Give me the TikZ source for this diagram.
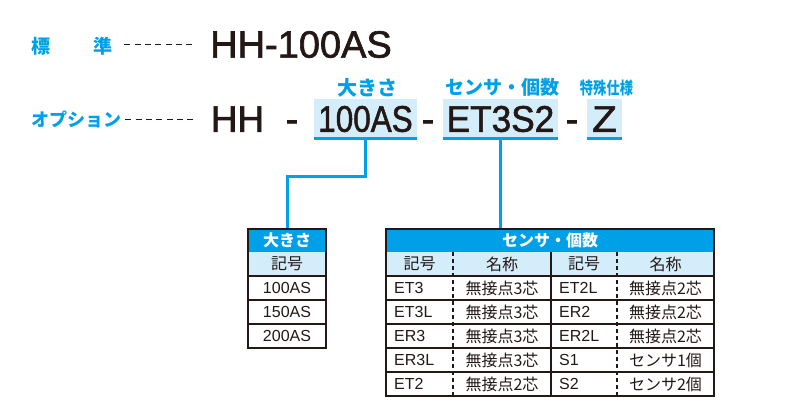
\documentclass[tikz,border=0pt]{standalone}
\usepackage{fontspec}
\setmainfont{Liberation Sans}
\newfontfamily\jp{Noto Sans CJK JP}
\newfontfamily\codefont[FakeBold=1.6]{Liberation Sans}
\usetikzlibrary{positioning}
\definecolor{codeblue}{RGB}{0,160,233}
\definecolor{codelight}{RGB}{211,237,251}
\definecolor{inkbrown}{RGB}{35,24,21}

\tikzset{
  bluelabel/.style={text=codeblue, inner sep=0pt, font=\jp\bfseries\fontsize{19}{19}\selectfont},
  toplabel/.style={text=codeblue, inner sep=0pt, font=\jp\bfseries\fontsize{20}{20}\selectfont},
  bigcode/.style={text=inkbrown, inner sep=0pt, text height=26.5pt, text depth=0pt,
    font=\codefont\fontsize{37}{37}\selectfont},
  codebox/.style={bigcode, fill=codelight, minimum height=39pt},
  underbar/.style={codeblue, line width=3pt},
  link/.style={codeblue, line width=3pt},
  leader/.style={inkbrown, line width=1pt, dash pattern=on 6pt off 4.3pt},
  frame/.style={draw=inkbrown, line width=1.5pt, inner sep=0pt},
  rule/.style={inkbrown, line width=1.2pt},
  dashrule/.style={inkbrown, line width=1.2pt, dash pattern=on 4pt off 3pt},
  tabhead/.style={text=white, inner sep=0pt, font=\jp\bfseries\fontsize{16}{16}\selectfont},
  cell/.style={text=inkbrown, inner sep=0pt, font=\fontsize{16}{16}\selectfont},
  jpcell/.style={cell, font=\jp\fontsize{16}{16}\selectfont}
}

\begin{document}
\begin{tikzpicture}[x=1pt, y=-1pt]
\useasboundingbox (0,0) rectangle (800,415);

% standard model
\node[bluelabel, anchor=west] (stdlbl) at (31,46) {標\hspace{43pt}準};
\node[bigcode, font=\codefont\fontsize{38}{38}\selectfont, text height=27.2pt] (stdcode) at (301,44) {HH-100AS};
\draw[leader] (stdlbl.east) ++(12,-2) -- ++(68,0);

% option model
\node[bluelabel, anchor=west, font=\jp\bfseries\fontsize{18}{18}\selectfont] (optlbl) at (31,119) {オプション};
\draw[leader] (optlbl.east) ++(4,0) -- ++(68,0);
\node[bigcode] (optHH) at (237.5,118.5) {HH};
\node[bigcode] (dash1) at (292,118.5) {-};
\node[codebox, minimum width=103pt] (sizebox) at (365.5,118.5) {\scalebox{0.85}[1]{100AS}};
\node[bigcode] (dash2) at (428,118.5) {-};
\node[codebox, minimum width=115pt] (sensbox) at (500.5,118.5) {\scalebox{0.95}[1]{ET3S2}};
\node[bigcode] (dash3) at (572,118.5) {-};
\node[codebox, minimum width=35pt] (zbox) at (604.5,118.5) {\scalebox{1.1}[1]{Z}};
\foreach \b in {sizebox,sensbox,zbox}
  \draw[underbar] (\b.south west) -- (\b.south east);

\node[toplabel] (sizelbl) at ([xshift=2pt,yshift=11pt]sizebox.north) {大きさ};
\node[toplabel, font=\jp\bfseries\fontsize{19}{19}\selectfont] (senslbl) at ([xshift=2pt,yshift=11pt]sensbox.north) {センサ・個数};
\node[toplabel, font=\jp\bfseries\fontsize{17}{17}\selectfont] (zlbl) at ([xshift=2pt,yshift=11pt]zbox.north) {\scalebox{0.78}[1]{特殊仕様}};

% size table
\fill[codeblue] (248,229) rectangle (326,252);
\fill[codelight] (248,252) rectangle (326,276);
\node[tabhead] (sizehead) at (287,240.5) {大きさ};
\node[jpcell] (sizesub) at (287,264) {記号};
\foreach \v [count=\i] in {100AS,150AS,200AS}
  \node[cell] (size\i) at (287,264+24*\i) {\v};
\foreach \y in {276,300,324}
  \draw[rule] (248,\y) -- (326,\y);
\node[frame, minimum width=78pt, minimum height=119pt] (sizetab) at (287,288.5) {};

% sensor table
\fill[codeblue] (386,229) rectangle (714,252);
\fill[codelight] (386,252) rectangle (714,276);
\node[tabhead] (senshead) at (550,240.5) {センサ・個数};
\foreach \x/\t in {419.5/記号,502/名称,584/記号,665.5/名称}
  \node[jpcell] at (\x,264) {\t};
\foreach \ca/\na/\cb/\nb [count=\i] in {ET3/無接点3芯/ET2L/無接点2芯,
    ET3L/無接点3芯/ER2/無接点2芯, ER3/無接点3芯/ER2L/無接点2芯,
    ER3L/無接点3芯/S1/センサ1個, ET2/無接点2芯/S2/センサ2個}{
  \node[cell, anchor=west] (codeA\i) at (394,264+24*\i) {\ca};
  \node[jpcell] (nameA\i) at (502,264+24*\i) {\na};
  \node[cell, anchor=west] (codeB\i) at (559,264+24*\i) {\cb};
  \node[jpcell] (nameB\i) at (665.5,264+24*\i) {\nb};
}
\foreach \y in {276,300,324,348,372}
  \draw[rule] (386,\y) -- (714,\y);
\draw[rule] (551,252) -- (551,396);
\foreach \x in {453,617}
  \draw[dashrule] (\x,252) -- (\x,396);
\node[frame, minimum width=328pt, minimum height=167pt] (senstab) at (550,312.5) {};

% connectors
\draw[link] (sizebox.south) -- ++(0,38.5) -| (sizetab.north);
\draw[link] (sensbox.south) -- (senstab.north -| sensbox.south);
\end{tikzpicture}
\end{document}
